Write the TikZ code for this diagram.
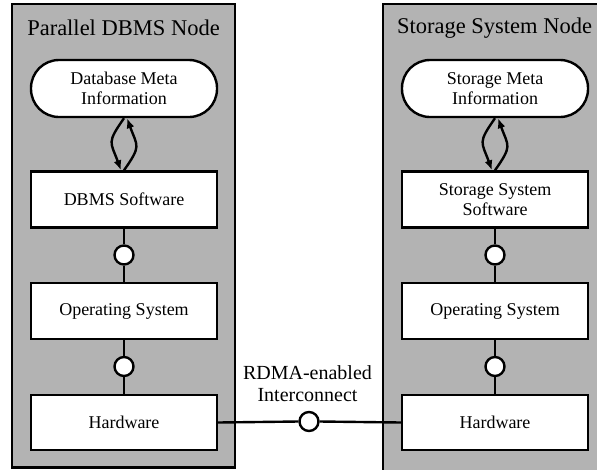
\documentclass[tikz,border=0pt]{standalone}
\usepackage{fontspec}
\setmainfont{Liberation Serif}
\usetikzlibrary{arrows.meta,calc}
\definecolor{panelgray}{RGB}{179,179,179}
\begin{document}
\begin{tikzpicture}[x=1pt,y=-1pt,
  panel/.style={draw=black,line width=2.4pt,fill=panelgray},
  box/.style={draw=black,line width=2.4pt,fill=white,minimum width=186pt,minimum height=56pt,inner sep=0pt,align=center,font=\fontsize{18}{20.5}\selectfont},
  meta/.style={box,rounded corners=28pt,minimum height=57pt},
  iface/.style={circle,draw=black,line width=2.4pt,fill=white,minimum size=19pt,inner sep=0pt},
  conn/.style={line width=2.4pt},
  flow/.style={line width=2.4pt,-{Latex[length=10pt,width=8pt]}},
  title/.style={font=\fontsize{22.5}{25}\selectfont},
  lbl/.style={font=\fontsize{20}{22}\selectfont,align=center}]
\useasboundingbox (0,0) rectangle (597,469);
\begin{scope}
\clip (0,0) rectangle (597,469);
\draw[panel] (12,4) rectangle (235,467.5);
\draw[panel] (383,4) rectangle (610,480);
\end{scope}
% left panel
\node[title] (tL) at (123.5,28) {Parallel DBMS Node};
\node[meta] (metaL) at (124,88.5) {Database Meta\\Information};
\node[box] (swL) at (124,199.5) {DBMS Software};
\node[iface] (c1L) at (124,255) {};
\node[box] (osL) at (124,311) {Operating System};
\node[iface] (c2L) at (124,366.5) {};
\node[box,minimum height=55pt] (hwL) at (124,422.5) {Hardware};
% right panel
\node[title] (tR) at (494.5,28) {Storage System Node};
\node[meta] (metaR) at (495,88.5) {Storage Meta\\Information};
\node[box] (swR) at (495,199.5) {Storage System\\Software};
\node[iface] (c1R) at (495,255) {};
\node[box] (osR) at (495,311) {Operating System};
\node[iface] (c2R) at (495,366.5) {};
\node[box,minimum height=55pt] (hwR) at (495,422.5) {Hardware};
% interconnect
\node[iface] (cI) at (309,421.5) {};
\node[lbl] (lI) at (307.5,384) {RDMA-enabled\\Interconnect};
% connectors
\foreach \s in {L,R}{
  \draw[conn] (sw\s.south) -- (c1\s.north);
  \draw[conn] (c1\s.south) -- (os\s.north);
  \draw[conn] (os\s.south) -- (c2\s.north);
  \draw[conn] (c2\s.south) -- (hw\s.north);
  \draw[flow] (meta\s.south) to[out=235,in=110,looseness=1.5] ($(sw\s.north)+(-3,0)$);
  \draw[flow] (sw\s.north) to[out=55,in=-70,looseness=1.5] ($(meta\s.south)+(3,0)$);
}
\draw[conn] (hwL.east) -- (cI.west);
\draw[conn] (cI.east) -- (hwR.west);
\end{tikzpicture}
\end{document}
